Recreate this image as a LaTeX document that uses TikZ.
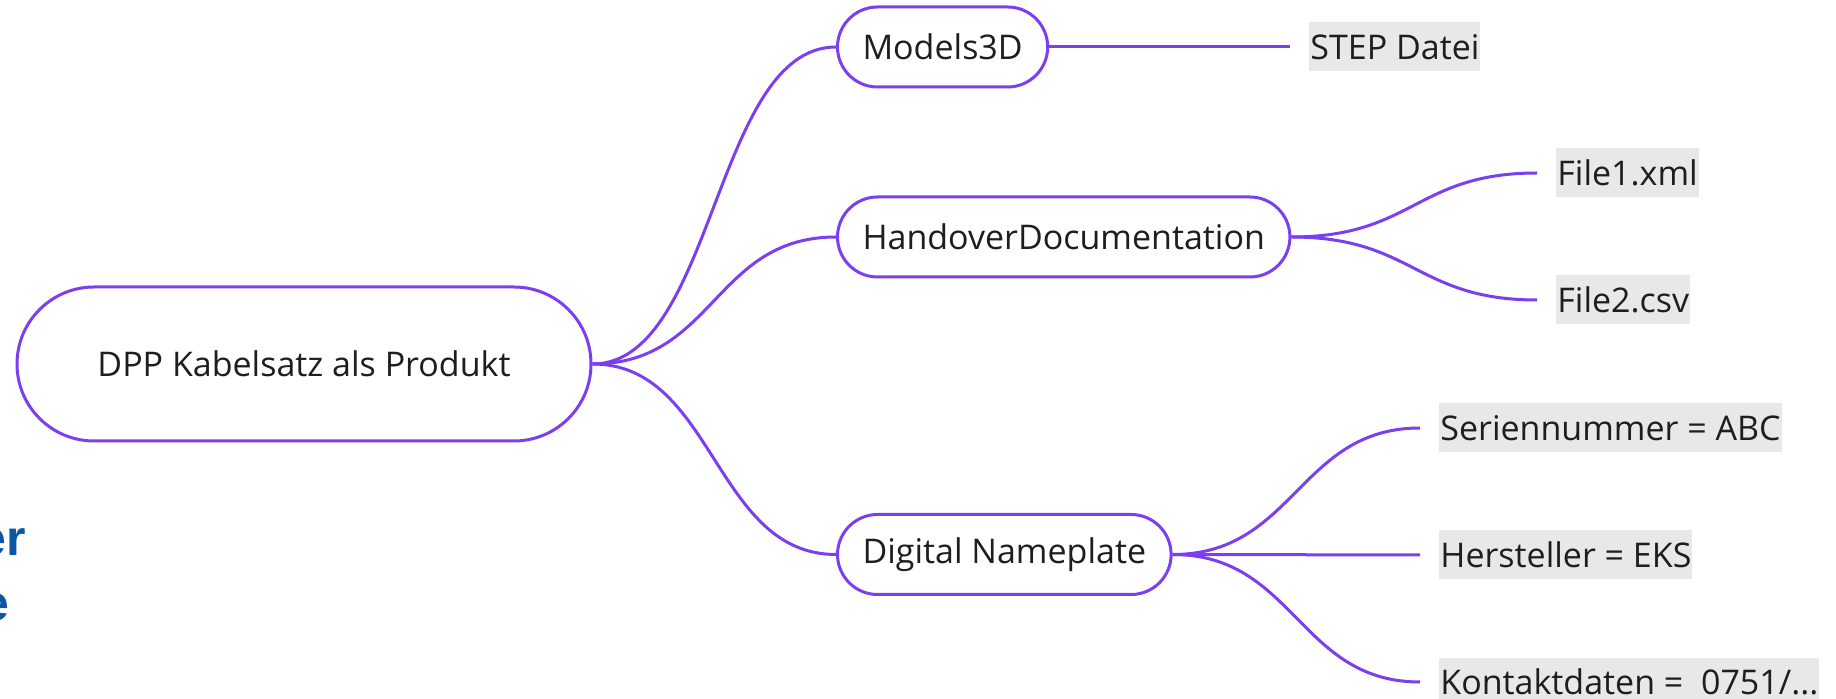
\documentclass[tikz,border=0pt]{standalone}
\usepackage{fontspec}
\setmainfont{Open Sans}
\newfontfamily\slidefont{Liberation Sans}
\definecolor{mmpurple}{RGB}{123,63,240}
\definecolor{leafgray}{RGB}{232,232,232}
\definecolor{txt}{RGB}{30,30,30}
\definecolor{slideblue}{RGB}{12,86,164}
\tikzset{
  basefont/.style={font=\fontsize{17}{20}\selectfont, text=txt},
  rootbox/.style={basefont, draw=mmpurple, line width=1.5pt, fill=white,
    rounded corners=38.5pt, minimum width=287pt, minimum height=77pt},
  childbox/.style={basefont, draw=mmpurple, line width=1.5pt, fill=white,
    rounded corners=20pt, minimum height=40pt, inner xsep=12.5pt, anchor=west},
  leafbox/.style={basefont, fill=leafgray, minimum height=24.5pt,
    inner xsep=0.5pt, inner ysep=0pt, anchor=west},
  link/.style={draw=mmpurple, line width=1.5pt},
  slidetext/.style={font=\slidefont\bfseries\fontsize{25}{30}\selectfont, text=slideblue,
    inner sep=0pt, anchor=base east}
}
\begin{document}
\begin{tikzpicture}[x=0.5pt,y=-0.5pt]
\useasboundingbox (0,0) rectangle (1836,699);
\clip (0,0) rectangle (1836,699);
% root
\node[rootbox] (root) at (304,364) {DPP Kabelsatz als Produkt};
% children
\node[childbox] (m3d) at (836,47) {Models3D};
\node[childbox] (hdoc) at (836,237) {HandoverDocumentation};
\node[childbox] (dnp) at (836,554.5) {Digital Nameplate};
% leaves
\node[leafbox] (step) at (1309,47) {STEP Datei};
\node[leafbox] (f1) at (1556,173) {File1.xml};
\node[leafbox] (f2) at (1556,300) {File2.csv};
\node[leafbox] (ser) at (1439,428) {Seriennummer = ABC};
\node[leafbox] (her) at (1439,555) {Hersteller = EKS};
\node[leafbox] (kon) at (1439,682) {Kontaktdaten =\ \ 0751/...};
% partial slide text at left
\node[slidetext] (b1) at (26,556) {er};
\node[slidetext] (b2) at (10,620) {e};
% connectors root -> children
\draw[link] (root.east) .. controls +(122,0) and +(-122,0) .. (m3d.west);
\draw[link] (root.east) .. controls +(122,0) and +(-122,0) .. (hdoc.west);
\draw[link] (root.east) .. controls +(122,0) and +(-122,0) .. (dnp.west);
% children -> leaves
\draw[link, shorten >=9.5pt] (m3d.east) -- (step.west);
\draw[link, shorten >=9.5pt] (hdoc.east) .. controls +(122,0) and +(-140,0) .. (f1.west);
\draw[link, shorten >=9.5pt] (hdoc.east) .. controls +(122,0) and +(-140,0) .. (f2.west);
\draw[link, shorten >=9.5pt] (dnp.east) .. controls +(122,0) and +(-140,0) .. (ser.west);
\draw[link, shorten >=9.5pt] (dnp.east) -- (her.west);
\draw[link, shorten >=9.5pt] (dnp.east) .. controls +(122,0) and +(-140,0) .. (kon.west);
\end{tikzpicture}
\end{document}
